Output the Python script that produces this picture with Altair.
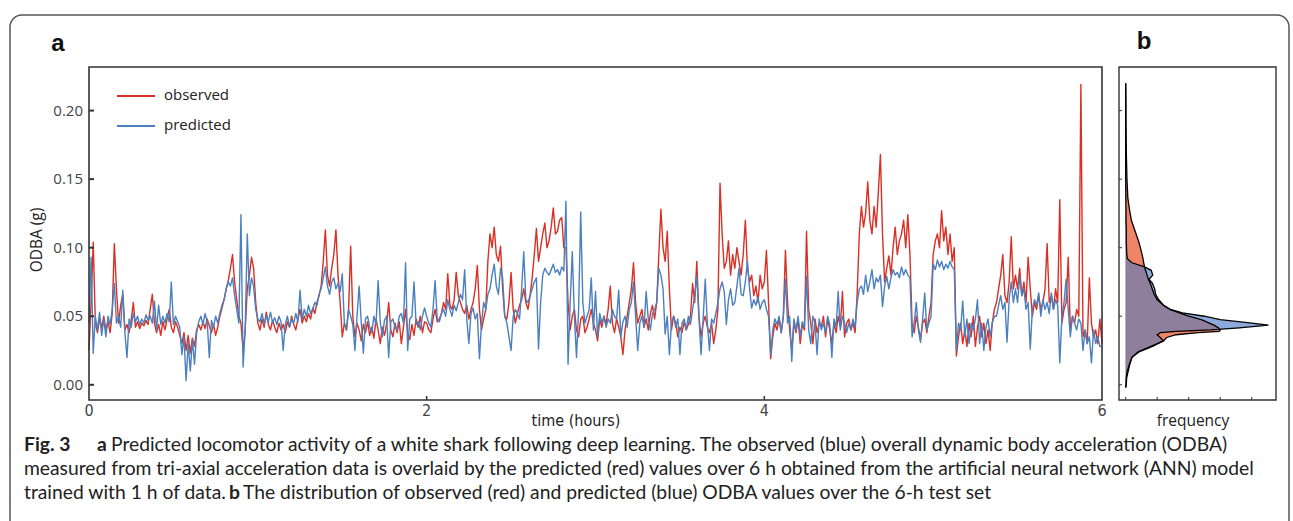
import altair as alt
import pandas as pd

# ---------------- data (milli-g) ----------------
STEP_H = 0.0125

observed_mg = [
    # hour 0
    25,60,104,45,38,48,42,50,40,46, 38,52,103,70,45,58,66,40,44,38,
    47,60,42,46,41,45,43,47,44,55, 66,45,38,44,36,46,40,48,55,42,
    38,46,42,36,30,38,25,36,23,34, 28,40,44,40,46,41,48,43,38,44,
    36,42,50,56,62,70,76,85,95,75, 62,50,45,25,40,70,80,93,85,60,
    # hour 1
    45,40,48,42,53,44,40,47,42,38, 45,40,44,38,46,42,50,44,40,48,
    55,45,50,46,52,48,56,52,60,65, 72,90,113,80,72,85,95,113,80,60,
    35,45,40,55,101,50,35,45,40,32, 44,38,46,36,42,34,48,40,30,42,
    36,44,60,40,35,45,38,46,30,42, 55,38,33,44,36,48,42,50,38,46,
    # hour 2
    45,40,38,48,55,46,48,52,60,55, 81,58,55,62,82,65,60,55,52,58,
    48,55,60,70,87,55,40,48,55,90, 110,100,115,95,90,101,70,50,48,60,
    82,55,45,52,58,62,70,60,55,65, 78,95,114,90,100,110,118,100,105,115,
    129,110,112,120,122,100,100,60,40,50, 55,40,35,48,50,38,42,48,55,45,
    # hour 3
    40,32,48,42,50,44,55,72,45,38, 48,42,35,22,40,50,60,70,89,60,
    45,50,55,42,48,40,52,58,48,60, 95,128,100,90,112,70,40,50,45,35,
    42,38,46,40,44,50,74,60,90,50, 35,45,50,42,38,45,30,40,55,147,
    110,85,90,105,80,95,85,100,90,80, 95,120,85,75,80,65,72,60,80,70,
    # hour 4
    75,98,60,19,35,45,40,48,38,50, 98,60,40,25,45,38,48,30,44,40,
    112,55,45,30,48,38,45,42,50,35, 48,40,30,45,38,50,42,68,35,45,
    48,40,45,38,67,110,130,115,125,148, 120,110,130,115,140,168,110,75,85,94,
    80,100,115,95,105,110,120,100,124,95, 45,38,50,42,33,45,48,38,50,60,
    # hour 5
    95,105,110,100,127,105,115,95,110,90, 100,21,35,45,30,40,28,45,35,50,
    28,42,50,35,45,30,40,25,45,55, 60,70,80,95,65,60,75,108,70,80,
    70,85,65,75,60,93,70,50,60,55, 65,55,60,70,103,60,65,55,70,60,
    135,45,55,60,93,40,50,45,55,50, 219,35,40,30,78,45,35,40,30,48,
    30,
]
predicted_mg = [
    # hour 0
    45,93,23,50,40,53,36,48,35,50, 44,55,74,45,50,42,69,38,20,48,
    42,52,46,50,44,48,45,51,47,50, 45,61,40,58,44,50,45,52,46,75,
    44,50,46,42,22,35,3,30,10,33, 15,38,46,50,44,52,46,20,47,42,
    50,45,52,58,62,70,75,72,78,65, 55,45,124,13,40,110,65,78,72,55,
    # hour 1
    48,46,52,44,50,46,53,45,49,44, 50,46,25,44,50,42,48,45,52,46,
    69,48,55,50,58,52,55,60,58,66, 70,78,86,72,66,75,78,70,74,68,
    81,45,40,55,50,44,25,50,72,46, 23,48,50,42,38,50,44,76,46,35,
    47,50,20,46,48,42,40,50,52,45, 89,25,48,50,75,44,46,40,50,56,
    # hour 2
    50,45,42,55,76,48,46,52,55,50, 62,55,50,58,54,60,66,62,84,48,
    30,52,56,48,52,19,45,60,55,66, 70,80,88,72,66,85,78,50,45,35,
    25,50,55,52,48,70,97,62,60,65, 70,75,78,26,60,80,85,82,80,84,
    88,82,84,80,86,83,134,15,60,97, 50,20,55,126,60,45,50,55,78,40,
    # hour 3
    68,35,52,45,50,42,48,45,55,50, 48,69,35,46,50,42,55,60,75,50,
    25,45,50,42,68,48,40,52,55,60, 85,80,70,37,50,22,45,50,42,48,
    22,45,48,40,50,44,55,65,79,50, 22,48,77,45,25,48,45,52,60,70,
    75,68,44,62,70,58,60,72,85,66, 65,75,90,70,56,62,58,64,55,60,
    # hour 4
    62,55,50,22,40,48,44,50,38,50, 77,45,50,17,48,40,50,35,46,42,
    79,40,30,50,45,22,48,40,45,38, 50,44,20,48,42,68,40,50,45,38,
    45,40,48,42,60,70,72,66,80,68, 75,84,70,78,75,80,57,72,79,70,
    78,84,80,82,78,86,80,84,80,78, 35,45,60,40,31,48,67,40,45,50,
    # hour 5
    88,84,91,86,90,84,88,85,90,86, 84,25,45,40,61,35,48,30,45,40,
    48,62,30,45,25,42,48,35,45,50, 50,58,65,55,60,31,62,75,60,70,
    60,79,65,70,55,60,26,55,62,58, 67,50,62,55,60,52,67,55,62,58,
    16,50,60,77,55,35,50,45,40,48, 45,25,40,30,35,16,40,30,35,28,
    28,
]

# density panel (b): ODBA value grid and frequency (arbitrary units)
dens_odba = [-0.002, 0.000, 0.005, 0.010, 0.015, 0.020, 0.024, 0.028, 0.032, 0.0345, 0.0365, 0.038, 0.039, 0.040,
             0.0415, 0.0435, 0.0455, 0.0475, 0.050, 0.0525, 0.055, 0.058, 0.062, 0.066, 0.070, 0.074, 0.077,
             0.080, 0.0835, 0.086, 0.089, 0.092, 0.097, 0.104, 0.112, 0.120, 0.128, 0.136, 0.150, 0.170, 0.190,
             0.210, 0.220]
dens_observed = [0.0, 0.01, 0.02, 0.05, 0.12, 0.20, 0.40, 0.80, 1.20, 1.30, 1.60, 2.30, 2.97, 3.00,
                 2.95, 2.80, 2.60, 2.40, 2.00, 1.70, 1.40, 1.20, 1.00, 0.90, 0.84, 0.78, 0.72,
                 0.68, 0.63, 0.60, 0.57, 0.55, 0.50, 0.42, 0.30, 0.18, 0.12, 0.07, 0.04, 0.02, 0.01,
                 0.005, 0.0]
dens_predicted = [0.0, 0.02, 0.03, 0.08, 0.13, 0.20, 0.42, 0.85, 1.20, 1.10, 1.00, 1.10, 1.60, 2.70,
                  3.60, 4.53, 3.80, 3.00, 2.50, 1.80, 1.42, 1.20, 1.05, 0.95, 0.92, 0.85, 0.74,
                  0.86, 0.81, 0.60, 0.20, 0.05, 0.03, 0.02, 0.02, 0.01, 0.01, 0.005, 0.0, 0.0, 0.0,
                  0.0, 0.0]

series_names = ["observed", "predicted"]
y_ticks = [0.0, 0.05, 0.10, 0.15, 0.20]
y_tick_labels = ["0.00", "0.05", "0.10", "0.15", "0.20"]
x_ticks = [0, 2, 4, 6]
x_tick_labels = ["0", "2", "4", "6"]
freq_ticks = [0, 1, 2, 3, 4]

y_title = "ODBA (g)"
x_title = "time (hours)"
b_title = "frequency"
caption_l1 = "Predicted locomotor activity of a white shark following deep learning. The observed (blue) overall dynamic body acceleration (ODBA)"
caption_l2 = "measured from tri-axial acceleration data is overlaid by the predicted (red) values over 6 h obtained from the artificial neural network (ANN) model"
caption_l3a = "trained with 1 h of data."
caption_l3b = "The distribution of observed (red) and predicted (blue) ODBA values over the 6-h test set"

# ---------------- styling ----------------
RED = "#DA2F24"
BLUE = "#4A80BF"
SALMON = "#F08466"
LBLUE = "#8DAADB"
PURPLE = "#8F7F9C"
FRAME = "#333333"
UI_FONT = "Open Sans"
COND_FONT = "Liberation Sans Narrow, DejaVu Sans Condensed, sans-serif"
CAP_FONT = "Lato"
CAP_SIZE = 19.3

WA, HA = 1013, 333      # panel a plot area
WB = 157                # panel b plot area width
Y_DOMAIN = [-0.0111, 0.2318]

n = len(observed_mg)
hours = [round(i * STEP_H, 4) for i in range(n)]
ts = pd.DataFrame({
    "time": hours + hours,
    "odba": [v / 1000 for v in observed_mg] + [v / 1000 for v in predicted_mg],
    "series": [series_names[0]] * n + [series_names[1]] * n,
})

yscale = alt.Scale(domain=Y_DOMAIN, nice=False, zero=False)
xscale = alt.Scale(domain=[0, 6], nice=False, zero=False)


def one():
    return pd.DataFrame({"k": [0]})


def txt(s, x, y, size, weight="normal", font=CAP_FONT, align="left", color="#222222", angle=0):
    mk = dict(align=align, baseline="middle", font=font, fontSize=size, fontWeight=weight, color=color)
    if angle:
        mk["angle"] = angle
    return alt.Chart(pd.DataFrame({"t": [s]})).mark_text(**mk).encode(
        x=alt.value(x), y=alt.value(y), text="t:N")


# page background and rounded figure frame
page = alt.Chart(one()).mark_rect(fill="white").encode(
    x=alt.value(-89), x2=alt.value(1204), y=alt.value(-67), y2=alt.value(454))
frame = alt.Chart(one()).mark_rect(fillOpacity=0, stroke="#555555", strokeWidth=1.5, cornerRadius=12).encode(
    x=alt.value(-79), x2=alt.value(1200), y=alt.value(-52), y2=alt.value(560))

lines = alt.Chart(ts).mark_line(strokeWidth=1.4, strokeJoin="round").encode(
    x=alt.X("time:Q", scale=xscale, axis=None),
    y=alt.Y("odba:Q", scale=yscale, axis=None),
    color=alt.Color("series:N", scale=alt.Scale(domain=series_names, range=[RED, BLUE]), legend=None),
)

# axis ticks / labels positioned through the data scales
ytick_a = alt.Chart(pd.DataFrame({"v": y_ticks})).mark_rule(color=FRAME, strokeWidth=2).encode(
    y=alt.Y("v:Q", scale=yscale, axis=None), x=alt.value(0), x2=alt.value(5))
xtick_a = alt.Chart(pd.DataFrame({"v": x_ticks[1:-1]})).mark_rule(color=FRAME, strokeWidth=1.5).encode(
    x=alt.X("v:Q", scale=xscale, axis=None), y=alt.value(HA), y2=alt.value(HA - 4))
ylab_a = alt.Chart(pd.DataFrame({"v": y_ticks, "lab": y_tick_labels})).mark_text(
    align="right", baseline="middle", font=UI_FONT, fontSize=15, color="#444444").encode(
    y=alt.Y("v:Q", scale=yscale, axis=None), x=alt.value(-6), text="lab:N")
xlab_a = alt.Chart(pd.DataFrame({"v": x_ticks, "lab": x_tick_labels})).mark_text(
    align="center", baseline="middle", font=COND_FONT, fontSize=16, color="#444444").encode(
    x=alt.X("v:Q", scale=xscale, axis=None), y=alt.value(HA + 11), text="lab:N")
ytitle_a = txt(y_title, -52, 173, 15.5, font=UI_FONT, align="center", angle=270)
xtitle_a = txt(x_title, 487, 354, 16, font=COND_FONT, align="center")

box_a = alt.Chart(one()).mark_rect(fillOpacity=0, stroke=FRAME, strokeWidth=1.6).encode(
    x=alt.value(0), x2=alt.value(WA), y=alt.value(0), y2=alt.value(HA))

# legend (drawn in place, as in the figure)
leg_obs = alt.Chart(one()).mark_rule(color=RED, strokeWidth=1.8).encode(
    x=alt.value(28), x2=alt.value(66), y=alt.value(29))
leg_pred = alt.Chart(one()).mark_rule(color=BLUE, strokeWidth=1.8).encode(
    x=alt.value(28), x2=alt.value(66), y=alt.value(59))
leg_t1 = txt(series_names[0], 75, 28, 15, font=UI_FONT)
leg_t2 = txt(series_names[1], 75, 58, 15, font=UI_FONT)

label_a = txt("a", -31, -23, 24, weight="bold", font="Liberation Sans", align="center", color="#111111")

cap1a = txt("Fig. 3", -65, 378, CAP_SIZE, weight="bold")
cap1b = txt("a", 8, 378, CAP_SIZE, weight="bold")
cap1c = txt(caption_l1, 22, 378, CAP_SIZE)
cap2 = txt(caption_l2, -65, 402, CAP_SIZE)
cap3a = txt(caption_l3a, -65, 426, CAP_SIZE)
cap3b = txt("b", 140, 426, CAP_SIZE, weight="bold")
cap3c = txt(caption_l3b, 154, 426, CAP_SIZE)

panel_a = alt.layer(
    page, frame, cap1a, cap1b, cap1c, cap2, cap3a, cap3b, cap3c, label_a,
    lines, ytick_a, xtick_a, box_a, ylab_a, xlab_a, ytitle_a, xtitle_a,
    leg_obs, leg_pred, leg_t1, leg_t2,
).properties(width=WA, height=HA)

# ---------------- panel b ----------------
dens = pd.DataFrame({"odba": dens_odba, "obs": dens_observed, "pred": dens_predicted})
dens["both"] = dens[["obs", "pred"]].min(axis=1)
xb = alt.Scale(domain=[-0.212, 4.77], nice=False)


def dens_area(field, color):
    return alt.Chart(dens).mark_area(orient="horizontal", color=color, opacity=1).encode(
        y=alt.Y("odba:Q", scale=yscale, axis=None),
        x=alt.X(f"{field}:Q", scale=xb, axis=None, stack=None),
    )


def dens_line(field):
    return alt.Chart(dens).mark_line(color="black", strokeWidth=1.3, orient="horizontal").encode(
        y=alt.Y("odba:Q", scale=yscale, axis=None),
        x=alt.X(f"{field}:Q", scale=xb, axis=None),
        order=alt.Order("odba:Q"),
    )


ytick_b = alt.Chart(pd.DataFrame({"v": y_ticks})).mark_rule(color=FRAME, strokeWidth=1).encode(
    y=alt.Y("v:Q", scale=yscale, axis=None), x=alt.value(0), x2=alt.value(3))
xtick_b = alt.Chart(pd.DataFrame({"v": freq_ticks})).mark_rule(color=FRAME, strokeWidth=1).encode(
    x=alt.X("v:Q", scale=xb, axis=None), y=alt.value(HA), y2=alt.value(HA - 3))
box_b = alt.Chart(one()).mark_rect(fillOpacity=0, stroke=FRAME, strokeWidth=1.4).encode(
    x=alt.value(0), x2=alt.value(WB), y=alt.value(0), y2=alt.value(HA))
label_b = txt("b", 25, -25, 24, weight="bold", font="Liberation Sans", align="center", color="#111111")
xtitle_b = txt(b_title, 74, 354, 15.5, font=UI_FONT, align="center")

panel_b = alt.layer(
    dens_area("obs", SALMON), dens_area("pred", LBLUE), dens_area("both", PURPLE),
    dens_line("obs"), dens_line("pred"), ytick_b, xtick_b, box_b, label_b, xtitle_b,
).properties(width=WB, height=HA)

chart = alt.hconcat(panel_a, panel_b, spacing=17, bounds="flush").properties(
    padding=0, background="white"
).configure_view(stroke=None, strokeWidth=0)

chart.save("out.html", embed_options={"renderer": "svg", "actions": False})
